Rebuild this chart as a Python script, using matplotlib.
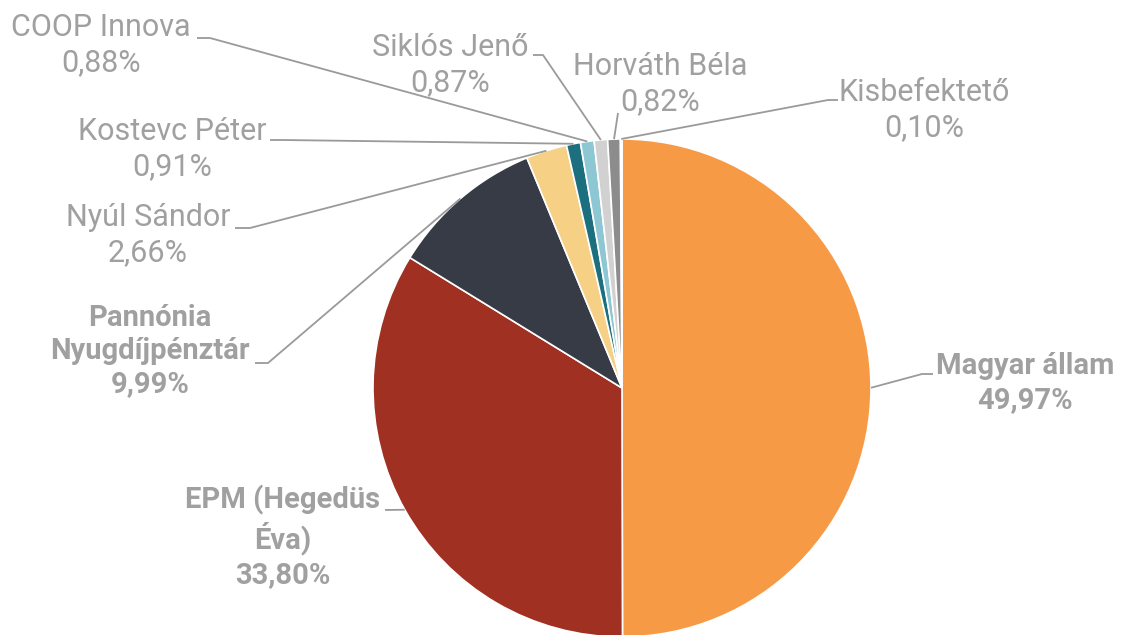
import numpy as np
import matplotlib
matplotlib.use("Agg")
import matplotlib.pyplot as plt

# adatok
names = ["Magyar állam", "EPM (Hegedüs\nÉva)", "Pannónia\nNyugdíjpénztár", "Nyúl Sándor",
         "Kostevc Péter", "COOP Innova", "Siklós Jenő", "Horváth Béla", "Kisbefektető"]
shares = [49.97, 33.80, 9.99, 2.66, 0.91, 0.88, 0.87, 0.82, 0.10]
colors = ["#F79A46", "#A03021", "#373B45", "#F5D085", "#1C6F7E",
          "#8DC7D3", "#D1D1D1", "#8C8C8C", "#7A7A7A"]
bold = [True, True, True, False, False, False, False, False, False]

# címkék helye (kép pixelben): szöveg közepe, vonal kezdete, töréspont
text_pos = [(1025, 383), (283, 537), (150, 351), (148, 235), (172, 149),
            (101, 45), (450, 65), (660, 84), (924, 110)]
line_start = [(933, 374), (385, 510), (255, 363), (235, 228), (270, 140),
              (197, 38), (533, 55), (618, 113), (838, 100)]
line_knee = [(922, 374), (385, 510), (268, 363), (250, 228), (283, 140),
             (210, 38), (543, 55), (618, 113), (828, 100)]

W, H = 1123, 635
plt.rcParams['font.family'] = ['Roboto', 'DejaVu Sans']

fig = plt.figure(figsize=(W / 100, H / 100), dpi=100)
ax = fig.add_axes([0, 0, 1, 1])

wedges, _ = ax.pie(shares, colors=colors, startangle=90, counterclock=False,
                   center=(622, H - 388), radius=249,
                   wedgeprops=dict(edgecolor="white", linewidth=1.2))

ax.set_xlim(0, W)
ax.set_ylim(0, H)
ax.set_aspect("equal")
ax.axis("off")

for i, w in enumerate(wedges):
    # a cikk közepe a körvonalon
    mid = np.deg2rad((w.theta1 + w.theta2) / 2)
    ax_x = w.center[0] + w.r * np.cos(mid)
    ax_y = w.center[1] + w.r * np.sin(mid)
    sx, sy = line_start[i]
    kx, ky = line_knee[i]
    ax.plot([sx, kx, ax_x], [H - sy, H - ky, ax_y], color="#9a9a9a", lw=1.3,
            solid_capstyle="butt", zorder=3)

    pct = f"{shares[i]:.2f}".replace(".", ",") + "%"
    tx, ty = text_pos[i]
    ax.text(tx, H - ty, names[i] + "\n" + pct, ha="center", va="center",
            multialignment="center", fontsize=21 if bold[i] else 22,
            linespacing=1.25, color="#a0a0a0",
            fontweight="bold" if bold[i] else "normal", zorder=4)

fig.savefig("out.png", dpi=100)
